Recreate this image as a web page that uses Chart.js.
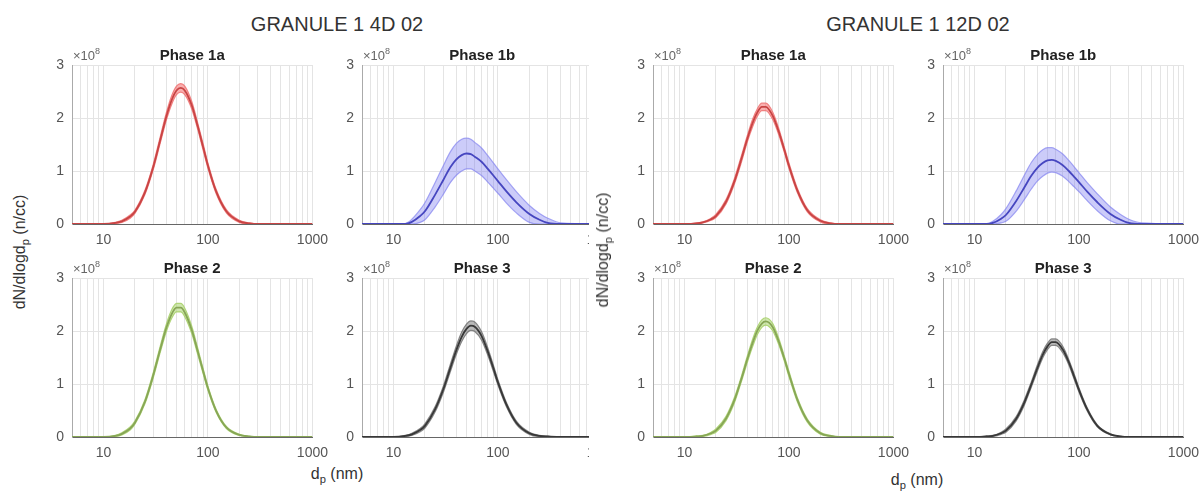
<!DOCTYPE html>
<html>
<head>
<meta charset="utf-8">
<script src="https://cdn.jsdelivr.net/npm/chart.js@4/dist/chart.umd.min.js"></script>
<style>
  body { margin: 0; width: 1203px; height: 497px; background: #fff; position: relative; overflow: hidden;
         font-family: "Liberation Sans", Arial, sans-serif; }
  canvas { position: absolute; }
  .txt { position: absolute; color: #333; white-space: nowrap; transform: translate(-50%, -50%); }
  .ylab { transform: translate(-50%, -50%) rotate(-90deg); font-size: 16px; }
  .xlab { font-size: 16px; }
  .group { font-size: 20px; }
  sub { font-size: 70%; vertical-align: -0.35em; line-height: 0; }
  #cover { position: absolute; left: 589px; top: 0; width: 47px; height: 497px; background: #fff; z-index: 2; }
</style>
</head>
<body>

<div class="txt group" style="left:337px;top:24px">GRANULE 1 4D 02</div>
<div class="txt group" style="left:918px;top:24px">GRANULE 1 12D 02</div>
<div class="txt ylab" style="left:20px;top:252px">dN/dlogd<sub>p</sub> (n/cc)</div>
<div id="cover"></div>
<div class="txt ylab" style="left:603px;top:250px;z-index:4">dN/dlogd<sub>p</sub> (n/cc)</div>
<div class="txt xlab" style="left:337px;top:474px">d<sub>p</sub> (nm)</div>
<div class="txt xlab" style="left:917px;top:480px">d<sub>p</sub> (nm)</div>

<script>
// particle diameter (nm) the curves are sampled at
const diam = [5, 10, 13, 15, 18, 20, 25, 30, 35, 40, 45, 50, 55, 60, 70, 80, 90, 100, 120, 150, 200, 250, 300, 400, 1000]
const xTicks = [5, 6, 7, 8, 9, 10, 20, 30, 40, 50, 60, 70, 80, 90, 100, 200, 300, 400, 500, 600, 700, 800, 900, 1000]
const xLabels = [10, 100, 1000]
const yTicks = [0, 1, 2, 3]

// dN/dlogdp in units of 1e8 /cc, mean and spread
// GRANULE 1 4D 02
const g4_1a_mean = [0, 0, 0.02, 0.05, 0.14, 0.23, 0.60, 1.08, 1.59, 2.03, 2.34, 2.52, 2.57, 2.52, 2.24, 1.84, 1.45, 1.10, 0.61, 0.24, 0.05, 0.01, 0, 0, 0]
const g4_1a_err  = [0, 0, 0.01, 0.02, 0.03, 0.03, 0.04, 0.05, 0.06, 0.07, 0.08, 0.08, 0.08, 0.08, 0.07, 0.06, 0.06, 0.05, 0.04, 0.03, 0.02, 0.01, 0, 0, 0]
const g4_1b_mean = [0, 0, 0, 0.04, 0.15, 0.24, 0.55, 0.83, 1.07, 1.22, 1.30, 1.33, 1.32, 1.27, 1.17, 1.04, 0.92, 0.81, 0.62, 0.41, 0.19, 0.08, 0.02, 0, 0]
const g4_1b_err  = [0, 0, 0.01, 0.05, 0.12, 0.16, 0.23, 0.27, 0.29, 0.30, 0.30, 0.29, 0.28, 0.27, 0.26, 0.25, 0.24, 0.23, 0.22, 0.20, 0.16, 0.12, 0.09, 0.02, 0]
const g4_2_mean  = [0, 0, 0.02, 0.06, 0.16, 0.27, 0.67, 1.17, 1.66, 2.06, 2.32, 2.44, 2.44, 2.35, 2.02, 1.61, 1.24, 0.92, 0.49, 0.18, 0.04, 0.01, 0, 0, 0]
const g4_2_err   = [0, 0, 0.01, 0.02, 0.03, 0.03, 0.04, 0.05, 0.06, 0.07, 0.08, 0.08, 0.08, 0.08, 0.07, 0.06, 0.05, 0.04, 0.03, 0.02, 0.01, 0, 0, 0, 0]
const g4_3_mean  = [0, 0, 0.02, 0.05, 0.13, 0.21, 0.52, 0.90, 1.30, 1.64, 1.89, 2.04, 2.10, 2.08, 1.90, 1.61, 1.31, 1.03, 0.62, 0.27, 0.07, 0.02, 0.01, 0, 0]
const g4_3_err   = [0, 0, 0.01, 0.02, 0.03, 0.04, 0.05, 0.06, 0.07, 0.08, 0.09, 0.09, 0.09, 0.09, 0.08, 0.07, 0.06, 0.05, 0.04, 0.03, 0.02, 0.01, 0, 0, 0]

// GRANULE 1 12D 02
const g12_1a_mean = [0, 0, 0.01, 0.03, 0.09, 0.15, 0.42, 0.80, 1.22, 1.61, 1.91, 2.11, 2.21, 2.21, 2.04, 1.74, 1.41, 1.10, 0.64, 0.26, 0.06, 0.01, 0, 0, 0]
const g12_1a_err  = [0, 0, 0.01, 0.01, 0.02, 0.03, 0.04, 0.05, 0.06, 0.06, 0.07, 0.07, 0.07, 0.07, 0.07, 0.06, 0.05, 0.05, 0.04, 0.03, 0.02, 0.01, 0, 0, 0]
const g12_1b_mean = [0, 0, 0, 0.02, 0.10, 0.17, 0.43, 0.69, 0.91, 1.06, 1.15, 1.20, 1.21, 1.19, 1.11, 1.00, 0.89, 0.79, 0.61, 0.41, 0.19, 0.08, 0.02, 0, 0]
const g12_1b_err  = [0, 0, 0, 0.03, 0.08, 0.12, 0.19, 0.23, 0.25, 0.25, 0.25, 0.24, 0.23, 0.22, 0.21, 0.20, 0.19, 0.18, 0.17, 0.16, 0.13, 0.10, 0.07, 0.02, 0]
const g12_2_mean  = [0, 0, 0.01, 0.02, 0.07, 0.12, 0.35, 0.69, 1.09, 1.47, 1.78, 2.01, 2.14, 2.18, 2.07, 1.80, 1.49, 1.19, 0.71, 0.31, 0.07, 0.02, 0, 0, 0]
const g12_2_err   = [0, 0, 0.01, 0.01, 0.02, 0.03, 0.04, 0.05, 0.05, 0.06, 0.07, 0.07, 0.07, 0.07, 0.07, 0.06, 0.05, 0.05, 0.04, 0.03, 0.02, 0.01, 0, 0, 0]
const g12_3_mean  = [0, 0, 0.01, 0.02, 0.07, 0.12, 0.34, 0.65, 0.99, 1.30, 1.55, 1.71, 1.79, 1.79, 1.65, 1.41, 1.14, 0.89, 0.52, 0.21, 0.05, 0.01, 0, 0, 0]
const g12_3_err   = [0, 0, 0.01, 0.01, 0.02, 0.03, 0.04, 0.05, 0.05, 0.06, 0.06, 0.06, 0.06, 0.06, 0.06, 0.05, 0.05, 0.04, 0.03, 0.02, 0.01, 0, 0, 0, 0]

const RED   = { line: '#c84444', band: 'rgba(245,110,110,0.55)', edge: 'rgba(240,120,120,0.9)' }
const BLUE  = { line: '#4646c0', band: 'rgba(120,120,240,0.38)', edge: 'rgba(130,130,240,0.7)' }
const GREEN = { line: '#87a656', band: 'rgba(175,215,120,0.6)', edge: 'rgba(170,210,110,0.9)' }
const BLACK = { line: '#383838', band: 'rgba(100,100,100,0.45)', edge: 'rgba(110,110,110,0.8)' }

const PLOT_W = 242, PLOT_H = 159
const PAD_L = 45, PAD_T = 30, PAD_R = 22, PAD_B = 30

const panels = [
  { x: 72,  y: 65,  title: 'Phase 1a', mean: g4_1a_mean,  err: g4_1a_err,  col: RED,   z: 1 },
  { x: 362, y: 65,  title: 'Phase 1b', mean: g4_1b_mean,  err: g4_1b_err,  col: BLUE,  z: 1 },
  { x: 653, y: 65,  title: 'Phase 1a', mean: g12_1a_mean, err: g12_1a_err, col: RED,   z: 3 },
  { x: 943, y: 65,  title: 'Phase 1b', mean: g12_1b_mean, err: g12_1b_err, col: BLUE,  z: 3 },
  { x: 72,  y: 278, title: 'Phase 2',  mean: g4_2_mean,   err: g4_2_err,   col: GREEN, z: 1 },
  { x: 362, y: 278, title: 'Phase 3',  mean: g4_3_mean,   err: g4_3_err,   col: BLACK, z: 1 },
  { x: 653, y: 278, title: 'Phase 2',  mean: g12_2_mean,  err: g12_2_err,  col: GREEN, z: 3 },
  { x: 943, y: 278, title: 'Phase 3',  mean: g12_3_mean,  err: g12_3_err,  col: BLACK, z: 3 }
]

Chart.defaults.font.family = '"Liberation Sans", Arial, sans-serif'

// the "x10^8" exponent mark at the top of each y axis
const exponentMark = {
  id: 'exponentMark',
  afterDraw(chart) {
    const { ctx, chartArea: a } = chart
    ctx.save()
    ctx.fillStyle = '#666'
    ctx.textAlign = 'left'
    ctx.textBaseline = 'alphabetic'
    ctx.font = '13px "Liberation Sans", Arial, sans-serif'
    ctx.fillText('\u00d710', a.left + 1, a.top - 5)
    const w = ctx.measureText('\u00d710').width
    ctx.font = '9px "Liberation Sans", Arial, sans-serif'
    ctx.fillText('8', a.left + 1 + w, a.top - 11)
    ctx.restore()
  }
}

panels.forEach(p => {
  const canvas = document.createElement('canvas')
  canvas.width = PAD_L + PLOT_W + PAD_R
  canvas.height = PAD_T + PLOT_H + PAD_B
  canvas.style.left = (p.x - PAD_L) + 'px'
  canvas.style.top = (p.y - PAD_T) + 'px'
  canvas.style.zIndex = p.z
  document.body.appendChild(canvas)

  const lo = p.mean.map((m, i) => ({ x: diam[i], y: Math.max(0, m - p.err[i]) }))
  const hi = p.mean.map((m, i) => ({ x: diam[i], y: m + p.err[i] }))
  const mid = p.mean.map((m, i) => ({ x: diam[i], y: m }))

  new Chart(canvas, {
    type: 'line',
    data: {
      datasets: [
        { data: mid, borderColor: p.col.line, borderWidth: 1.8, pointRadius: 0, fill: false, cubicInterpolationMode: 'monotone' },
        { data: lo, borderColor: p.col.edge, borderWidth: 1.2, pointRadius: 0, fill: false, cubicInterpolationMode: 'monotone' },
        { data: hi, borderColor: p.col.edge, borderWidth: 1.2, pointRadius: 0, fill: '-1', backgroundColor: p.col.band, cubicInterpolationMode: 'monotone' }
      ]
    },
    options: {
      responsive: false,
      animation: false,
      events: [],
      layout: { padding: { top: 12, right: PAD_R, left: 0, bottom: 0 } },
      plugins: {
        legend: { display: false },
        tooltip: { enabled: false },
        title: {
          display: true, text: p.title, fullSize: false, color: '#222',
          font: { size: 15, weight: 'bold', lineHeight: 1.2 },
          padding: { top: 0, bottom: 0 }
        }
      },
      scales: {
        x: {
          type: 'logarithmic', min: 5, max: 1000,
          afterBuildTicks: s => { s.ticks = xTicks.map(v => ({ value: v })) },
          afterFit: s => { s.height = PAD_B },
          ticks: {
            autoSkip: false, maxRotation: 0, padding: 8, color: '#555', font: { size: 14 },
            callback: v => xLabels.includes(v) ? String(v) : ''
          },
          grid: { color: '#e4e4e4', drawTicks: false },
          border: { display: true, color: '#666' }
        },
        y: {
          min: 0, max: 3,
          afterBuildTicks: s => { s.ticks = yTicks.map(v => ({ value: v })) },
          afterFit: s => { s.width = PAD_L },
          ticks: { padding: 8, color: '#555', font: { size: 14 }, callback: v => String(v) },
          grid: { color: '#e4e4e4', drawTicks: false },
          border: { display: true, color: '#aaa' }
        }
      }
    },
    plugins: [exponentMark]
  })
})
</script>
</body>
</html>
